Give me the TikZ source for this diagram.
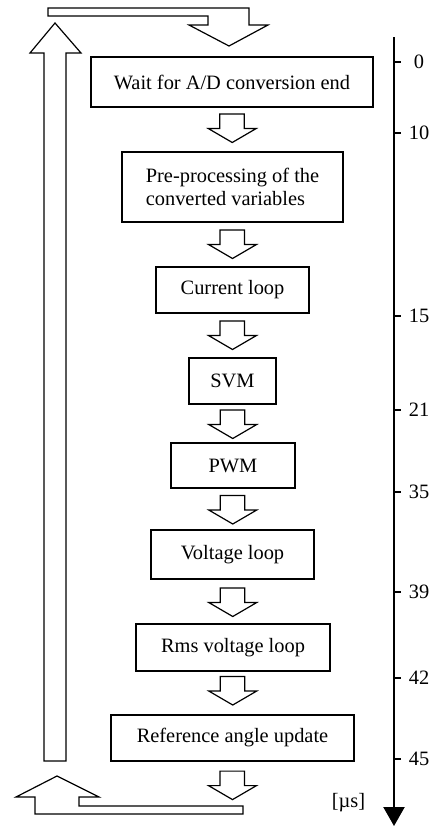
\documentclass[tikz,border=0pt]{standalone}
\usepackage{fontspec}
\setmainfont{Liberation Serif}
\usetikzlibrary{calc,arrows.meta}
\begin{document}
\begin{tikzpicture}[x=1pt,y=-1pt,
  every node/.style={font=\fontsize{20.4}{23}\selectfont},
  procbox/.style={draw,line width=1.2pt,rectangle,inner sep=0pt,align=center},
  outline/.style={draw,line width=1.2pt,line join=miter,fill=white},
  axisline/.style={line width=2.2pt},
  tickmark/.style={line width=2.6pt},
  ticklabel/.style={anchor=center,inner sep=0pt},
  barrow/.pic={\draw[outline] (-12.5,-14.5) -- (12,-14.5) -- (12,0) -- (24,0) -- (0,14) -- (-24,0) -- (-12.5,0) -- cycle;}
]
\useasboundingbox (0,0) rectangle (436,827);

% process boxes
\node[procbox,minimum width=282,minimum height=50] (b1) at (232,82) {Wait for A/D conversion end};
\node[procbox,minimum width=221,minimum height=70,align=left] (b2) at (232.5,187) {Pre-processing of the\\converted variables};
\node[procbox,minimum width=153,minimum height=46] (b3) at (232.5,290) {Current loop};
\node[procbox,minimum width=87,minimum height=46] (b4) at (232.5,381) {SVM};
\node[procbox,minimum width=124,minimum height=45] (b5) at (233,465.5) {PWM};
\node[procbox,minimum width=163,minimum height=49] (b6) at (232.5,554.5) {Voltage loop};
\node[procbox,minimum width=194,minimum height=47] (b7) at (233,647.5) {Rms voltage loop};
\node[procbox,minimum width=243,minimum height=46] (b8) at (232.5,738) {Reference angle update};

% block arrows between boxes
\pic at ($(b1.south)!0.5!(b2.north)+(0,-1)$) {barrow};
\pic at ($(b2.south)!0.5!(b3.north)$) {barrow};
\pic at ($(b3.south)!0.5!(b4.north)$) {barrow};
\pic at ($(b4.south)!0.5!(b5.north)+(0,1)$) {barrow};
\pic at ($(b5.south)!0.5!(b6.north)+(0,1)$) {barrow};
\pic at ($(b6.south)!0.5!(b7.north)+(0,1)$) {barrow};
\pic at ($(b7.south)!0.5!(b8.north)+(0,-2)$) {barrow};
\pic at ($(b8.south)+(0,24)$) {barrow};

% loop-back arrows
\draw[outline] (48,8) -- (249,8) -- (249,25) -- (268,25) -- (229,46) -- (189,25) -- (208,25) -- (208,16) -- (48,16) -- cycle;
\draw[outline] (44,761) -- (44,53) -- (30,53) -- (55,23) -- (81,53) -- (66,53) -- (66,761) -- cycle;
\draw[outline] (57,776) -- (99,797) -- (79,797) -- (79,806) -- (243,806) -- (243,814) -- (35,814) -- (35,797) -- (16,797) -- cycle;

% time axis
\coordinate (axtop) at (394,37);
\coordinate (axend) at (394,826);
\draw[axisline,-{Triangle[width=21pt,length=19pt]}] (axtop) -- (axend);
\foreach \yy/\lab in {62/0,133/10,316/15,410/21,492/35,592/39,678/42,759/45}{
  \draw[tickmark] (394,\yy) -- (401,\yy);
  \node[ticklabel] at (419,\yy) {\lab};
}
\node[ticklabel] (unit) at (348.5,803) {[µs]};
\end{tikzpicture}
\end{document}
